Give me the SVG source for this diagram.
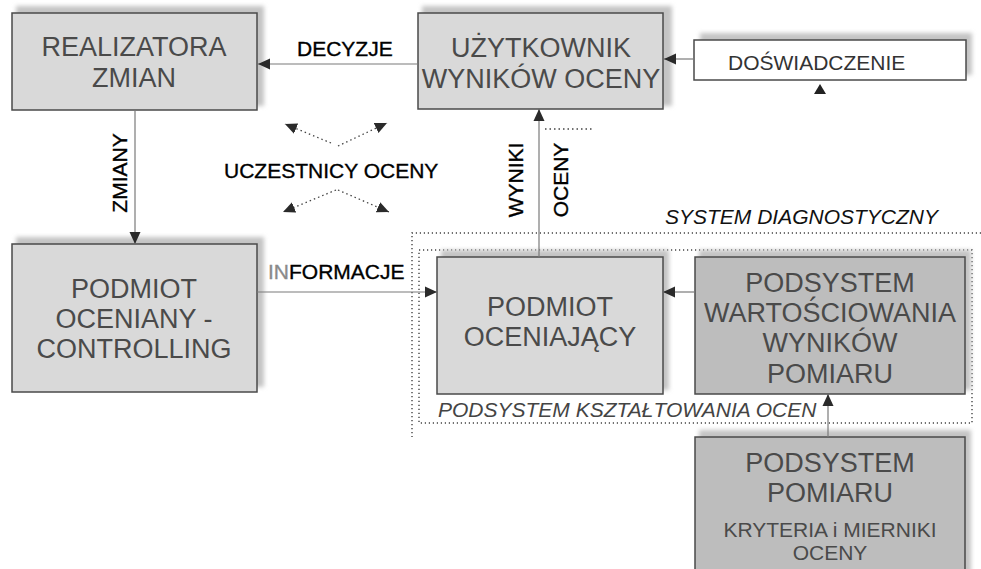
<svg xmlns="http://www.w3.org/2000/svg" width="981" height="569" viewBox="0 0 981 569">
<style>
.box{fill:#d9d9d9;stroke:#4a4a4a;stroke-width:1.5}
.dark{fill:#bdbdbd;stroke:#4a4a4a;stroke-width:1.5}
.white{fill:#ffffff;stroke:#4a4a4a;stroke-width:1.5}
.halo{fill:#c4c4c4;filter:url(#blur)}
.bt{font-family:"Liberation Sans",Arial,sans-serif;font-size:27px;fill:#4a4a4a;text-anchor:middle}
.sm{font-size:21px}
.lbl{font-family:"Liberation Sans",Arial,sans-serif;font-size:21px;fill:#000;stroke:#000;stroke-width:0.35}
.it{font-family:"Liberation Sans",Arial,sans-serif;font-size:21px;font-style:italic}
.conn{fill:none;stroke:#7a7a7a;stroke-width:1.2}
.dots{fill:none;stroke:#444;stroke-width:1.4;stroke-dasharray:1.2 2.8}
.xd{fill:none;stroke:#444;stroke-width:1.3;stroke-dasharray:1.5 3}
</style>
<defs>
<filter id="blur" x="-10%" y="-10%" width="120%" height="120%"><feGaussianBlur stdDeviation="2"/></filter>
<marker id="ah" markerUnits="userSpaceOnUse" markerWidth="13" markerHeight="13" viewBox="0 0 13 13" refX="12" refY="6.5" orient="auto">
<path d="M0,1 L12,6.5 L0,12 Z" fill="#2a2a2a"/>
</marker>
</defs>
<rect width="981" height="569" fill="#fff"/>

<g id="system-diagnostyczny">
<path class="dots" d="M981,233 H412 V437"/>
<text class="it" x="665" y="224" fill="#111">SYSTEM DIAGNOSTYCZNY</text>
</g>
<g id="podsystem-ksztaltowania">
<rect class="dots" x="419" y="250" width="553" height="173"/>
<text class="it" x="438" y="417" fill="#444">PODSYSTEM KSZTAŁTOWANIA OCEN</text>
</g>

<g id="realizatora">
<rect class="halo" x="16" y="6" width="248" height="100"/>
<rect class="box" x="12" y="13" width="245" height="97"/>
<text class="bt" x="134" y="56">REALIZATORA</text>
<text class="bt" x="134" y="87">ZMIAN</text>
</g>

<g id="uzytkownik">
<rect class="halo" x="422" y="6" width="250" height="100"/>
<rect class="box" x="418" y="13" width="245" height="96"/>
<text class="bt" x="541" y="57">UŻYTKOWNIK</text>
<text class="bt" x="541" y="88">WYNIKÓW OCENY</text>
</g>

<g id="doswiadczenie">
<rect class="halo" x="700" y="33" width="272" height="42"/>
<rect class="white" x="694" y="40" width="272" height="40"/>
<text x="728" y="70" font-family="Liberation Sans, Arial, sans-serif" font-size="21" fill="#333">DOŚWIADCZENIE</text>
</g>

<g id="podmiot-oceniany">
<rect class="halo" x="16" y="237" width="248" height="150"/>
<rect class="box" x="12" y="244" width="245" height="148"/>
<text class="bt" x="134" y="298">PODMIOT</text>
<text class="bt" x="134" y="328">OCENIANY -</text>
<text class="bt" x="134" y="358">CONTROLLING</text>
</g>

<g id="podmiot-oceniajacy">
<rect class="halo" x="441" y="250" width="228" height="140"/>
<rect class="box" x="437" y="257" width="226" height="137"/>
<text class="bt" x="550" y="316">PODMIOT</text>
<text class="bt" x="550" y="346">OCENIAJĄCY</text>
</g>

<g id="wartosciowanie">
<rect class="halo" x="699" y="250" width="272" height="140"/>
<rect class="dark" x="695" y="257" width="270" height="137"/>
<text class="bt" x="830" y="292">PODSYSTEM</text>
<text class="bt" x="830" y="322">WARTOŚCIOWANIA</text>
<text class="bt" x="830" y="352">WYNIKÓW</text>
<text class="bt" x="830" y="383">POMIARU</text>
</g>

<g id="pomiar">
<rect class="halo" x="699" y="430" width="272" height="150"/>
<rect class="dark" x="695" y="437" width="270" height="145"/>
<text class="bt" x="830" y="472">PODSYSTEM</text>
<text class="bt" x="830" y="502">POMIARU</text>
<text class="bt sm" x="830" y="537">KRYTERIA  i MIERNIKI</text>
<text class="bt sm" x="830" y="560">OCENY</text>
</g>

<g id="connectors">
<line class="conn" x1="418" y1="64" x2="258" y2="64" marker-end="url(#ah)"/>
<line class="conn" x1="694" y1="59" x2="664" y2="59" marker-end="url(#ah)"/>
<line class="conn" x1="135" y1="110" x2="135" y2="244" marker-end="url(#ah)"/>
<line class="conn" x1="257" y1="292" x2="437" y2="292" marker-end="url(#ah)"/>
<line class="conn" x1="539" y1="257" x2="539" y2="109" marker-end="url(#ah)"/>
<line class="conn" x1="695" y1="292" x2="663" y2="292" marker-end="url(#ah)"/>
<line class="conn" x1="828" y1="437" x2="828" y2="394" marker-end="url(#ah)"/>
<polygon points="820,84 814,94 826,94" fill="#222"/>
<line class="xd" x1="331" y1="143" x2="285" y2="124" marker-end="url(#ah)"/>
<line class="xd" x1="338" y1="146" x2="387" y2="123" marker-end="url(#ah)"/>
<line class="xd" x1="336" y1="190" x2="283" y2="212" marker-end="url(#ah)"/>
<line class="xd" x1="338" y1="190" x2="389" y2="212" marker-end="url(#ah)"/>
<line class="xd" x1="545" y1="129" x2="592" y2="129"/>
<text class="lbl" x="297" y="56">DECYZJE</text>
<text class="lbl" x="268" y="279"><tspan fill="#8a8a8a" stroke="#8a8a8a">IN</tspan>FORMACJE</text>
<text class="lbl" x="224" y="178">UCZESTNICY OCENY</text>
<text class="lbl" text-anchor="middle" transform="translate(127,173) rotate(-90)">ZMIANY</text>
<text class="lbl" text-anchor="middle" transform="translate(523,180) rotate(-90)">WYNIKI</text>
<text class="lbl" text-anchor="middle" transform="translate(568,180) rotate(-90)">OCENY</text>
</g>
</svg>
